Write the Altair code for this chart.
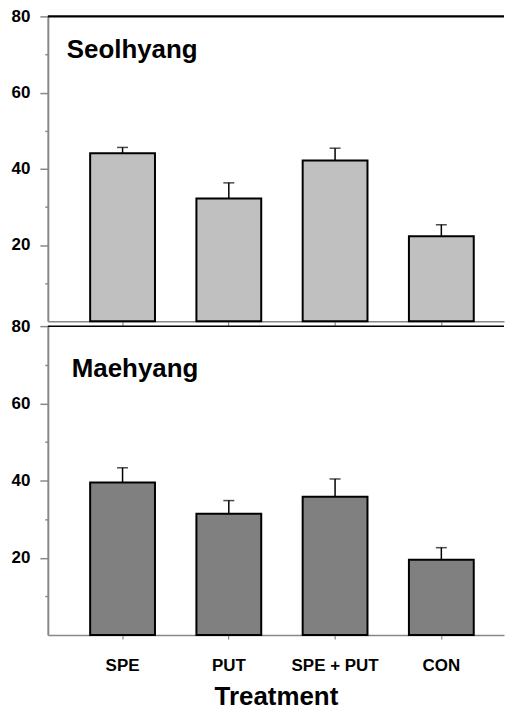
import altair as alt
import pandas as pd

treatments = ["SPE", "PUT", "SPE + PUT", "CON"]
seol_mean = [44.1, 32.2, 42.2, 22.3]
seol_upper = [45.6, 36.3, 45.4, 25.3]
mae_mean = [39.5, 31.4, 35.8, 19.5]
mae_upper = [43.3, 34.8, 40.4, 22.6]
panel_names = ["Seolhyang", "Maehyang"]
y_ticks = [10, 20, 30, 40, 50, 60, 70, 80]

FONT = "Liberation Sans"


def panel(means, uppers, name, fill, top_width, show_labels, height, label_y, label_dx):
    df = pd.DataFrame({"t": treatments, "m": means, "u": uppers})
    xscale = alt.Scale(domain=treatments, paddingInner=0.39, paddingOuter=0.3415, align=0.583)
    yscale = alt.Scale(domain=[0, 80], nice=False)
    if show_labels:
        xaxis = alt.Axis(title="Treatment", labelFontSize=17, labelFont=FONT, labelFontWeight="bold",
                         labelColor="black", tickSize=4, labelPadding=19, titlePadding=10,
                         titleFontSize=26, titleFont=FONT, titleFontWeight="bold", titleColor="black",
                         labelAngle=0, domainWidth=1.5, tickWidth=1.2)
    else:
        xaxis = alt.Axis(title=None, labels=False, tickSize=4, domainWidth=1.5, tickWidth=1.2)
    yaxis = alt.Axis(values=y_ticks, labelExpr="datum.value % 20 == 0 ? datum.label : ''",
                     tickSize={"condition": {"test": "datum.value % 20 == 0", "value": 8}, "value": 3},
                     title=None, grid=False, minExtent=40, maxExtent=40, labelPadding=10,
                     labelFontSize=17, labelFont=FONT, labelFontWeight="bold", labelColor="black",
                     domainWidth=2, tickWidth=1.5)
    base = alt.Chart(df)
    xenc = alt.X("t:N", scale=xscale, axis=xaxis, sort=treatments)
    bars = base.mark_bar(fill=fill, stroke="black", strokeWidth=2).encode(
        x=xenc, y=alt.Y("m:Q", scale=yscale, axis=yaxis))
    rules = base.mark_rule(color="black", strokeWidth=1.5).encode(
        x=alt.X("t:N", sort=treatments), y="m:Q", y2="u:Q")
    caps = base.mark_tick(color="black", size=11, thickness=1.5).encode(
        x=alt.X("t:N", sort=treatments), y="u:Q")
    topline = alt.Chart(pd.DataFrame({"v": [80]})).mark_rule(color="black", strokeWidth=top_width).encode(
        y="v:Q")
    label = alt.Chart(pd.DataFrame({"n": [name], "v": [label_y]})).mark_text(
        align="left", baseline="middle", fontSize=26, fontWeight="bold", font=FONT, color="black").encode(
        x=alt.value(label_dx), y="v:Q", text="n:N")
    return alt.layer(bars, rules, caps, topline, label).properties(width=458, height=height)


top = panel(seol_mean, seol_upper, panel_names[0], "#c0c0c0", 2.5, False, 306, 71.2, 19)
bottom = panel(mae_mean, mae_upper, panel_names[1], "#808080", 1.5, True, 310, 69.0, 24)

chart = alt.vconcat(top, bottom, spacing=5, bounds="flush").configure_view(stroke=None).properties(
    padding={"left": 0, "right": 0, "top": -2, "bottom": 0}, background="white")

chart.save("out.html", embed_options={"renderer": "svg", "actions": False})
